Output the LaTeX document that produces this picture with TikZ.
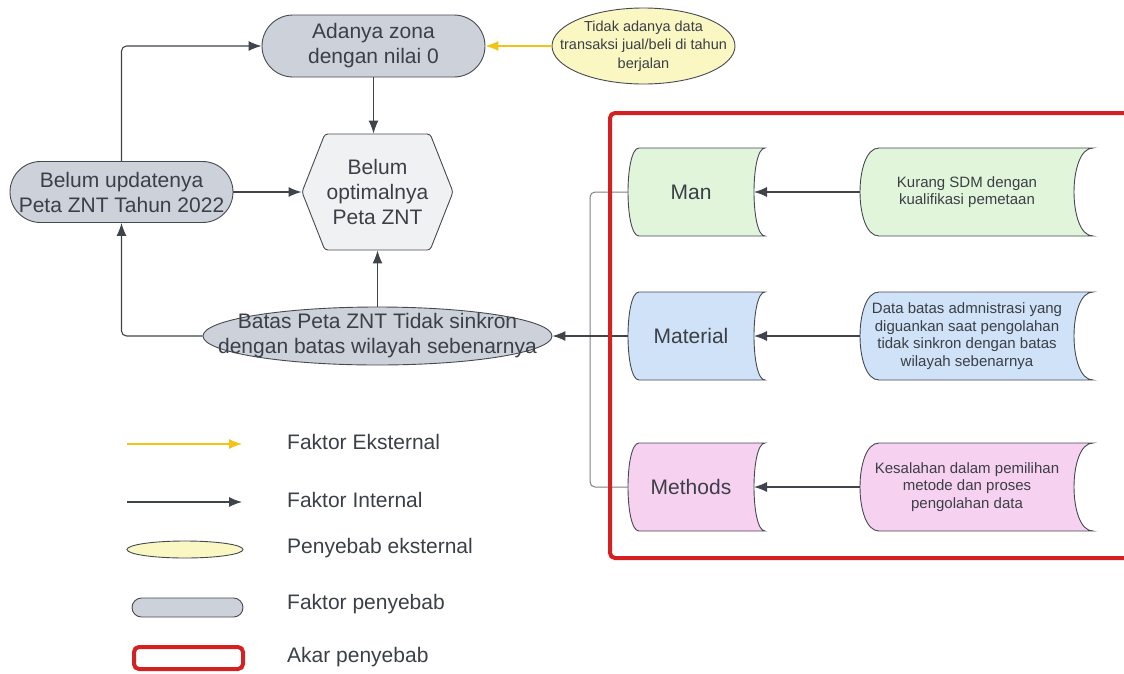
\documentclass[tikz,border=0pt]{standalone}
\usepackage{fontspec}
\setmainfont{Liberation Sans}
\usepackage{tikz}
\usetikzlibrary{shapes,arrows}
\usetikzlibrary{arrows.meta}
\usetikzlibrary{calc}
\definecolor{textgrey}{HTML}{3B3F46}
\definecolor{edgegrey}{HTML}{454A52}
\definecolor{linegrey}{HTML}{3F444B}
\definecolor{busgrey}{HTML}{7C7F84}
\definecolor{pillgrey}{HTML}{CDD2DA}
\definecolor{hexfill}{HTML}{F0F1F3}
\definecolor{extfill}{HTML}{FBF7C2}
\definecolor{extline}{HTML}{F2C417}
\definecolor{mangreen}{HTML}{E1F5DB}
\definecolor{matblue}{HTML}{CFE2F7}
\definecolor{methpink}{HTML}{F7D1F0}
\definecolor{akarred}{HTML}{D42020}
\tikzset{
  cdtext/.style={align=center, text=textgrey, inner sep=0},
  bigtxt/.style={cdtext, font=\fontsize{21}{25}\selectfont},
  smalltxt/.style={cdtext, font=\fontsize{15}{17.5}\selectfont},
  notetxt/.style={cdtext, font=\fontsize{14.5}{18.5}\selectfont},
  legtxt/.style={bigtxt, anchor=west},
  faktor/.style={rounded rectangle, draw=edgegrey, fill=pillgrey, line width=0.9pt, minimum height=61, inner sep=0},
  sebab/.style={ellipse, draw=edgegrey, fill=pillgrey, line width=0.9pt, inner sep=0},
  eksternal/.style={ellipse, draw=edgegrey, fill=extfill, line width=0.9pt, inner sep=0},
  hexa/.style={signal, signal to=east and west, signal pointer angle=137, draw=edgegrey, fill=hexfill, line width=0.9pt, minimum width=151, minimum height=116, inner sep=1pt, rounded corners=3pt},
  stored/.style={minimum height=88, inner sep=0, outer sep=0},
  intarrow/.style={draw=linegrey, line width=1.1pt, -{Latex[length=13pt,width=10pt]}},
  extarrow/.style={draw=extline, line width=1.1pt, -{Latex[length=13pt,width=10pt]}},
  bus/.style={draw=busgrey, line width=1pt, rounded corners=5pt},
  akar/.style={draw=akarred, line width=4pt, rounded corners=5pt}
}
\newcommand{\cdnode}[5] {\node at (#1) (#2) [#3] {}; \node at (#2) [#4] {#5};}
\newcommand{\cdstored}[7] {\node at (#1) (#2) [stored, minimum width=#3] {};
  \filldraw [fill=#5, draw=edgegrey, line width=0.9pt] ($(#2.north west)+(#4,0)$) -- (#2.north east)
    .. controls ($(#2.north east)+(-4/3*#4,0)$) and ($(#2.south east)+(-4/3*#4,0)$) .. (#2.south east)
    -- ($(#2.south west)+(#4,0)$)
    .. controls ($(#2.south west)+(-1/3*#4,0)$) and ($(#2.north west)+(-1/3*#4,0)$) .. ($(#2.north west)+(#4,0)$) -- cycle;
  \node at ($(#2)+(-#4/2,0)$) [#6] {#7};
  \coordinate (#2-in) at ($(#2.east)+(-#4,0)$);}
\newcommand{\cdlink}[3] {\draw [#3] (#1) -- (#2);}
\begin{document}
\begin{tikzpicture}[x=1pt, y=-1pt]
\useasboundingbox (0,0) rectangle (1124,673);

\cdnode {373.5,46} {zona} {faktor, minimum width=223, minimum height=62} {bigtxt} {Adanya zona\\dengan nilai 0};
\cdnode {643.5,46} {transaksi} {eksternal, minimum width=183, minimum height=76} {notetxt} {Tidak adanya data\\transaksi jual/beli di tahun\\berjalan};
\cdnode {121.5,192} {update} {faktor, minimum width=223} {bigtxt} {Belum updatenya\\Peta ZNT Tahun 2022};
\cdnode {377.5,192} {znt} {hexa} {bigtxt} {Belum\\optimalnya\\Peta ZNT};
\cdnode {377.5,336} {batas} {sebab, minimum width=349, minimum height=58} {bigtxt} {Batas Peta ZNT Tidak sinkron\\dengan batas wilayah sebenarnya};

\cdstored {696.5,192} {man} {137} {11} {mangreen} {bigtxt} {Man};
\cdstored {696.5,336} {material} {137} {11} {matblue} {bigtxt} {Material};
\cdstored {696.5,487} {methods} {137} {11} {methpink} {bigtxt} {Methods};
\cdstored {976.5,192} {sdm} {233} {19} {mangreen} {smalltxt} {Kurang SDM dengan\\kualifikasi pemetaan};
\cdstored {976.5,336} {data} {233} {19} {matblue} {smalltxt} {Data batas admnistrasi yang\\diguankan saat pengolahan\\tidak sinkron dengan batas\\wilayah sebenarnya};
\cdstored {976.5,487} {salah} {233} {19} {methpink} {smalltxt} {Kesalahan dalam pemilihan\\metode dan proses\\pengolahan data};

\cdlink{transaksi.west}{zona.east}{extarrow};
\cdlink{zona.south}{zona.south |- znt.north}{intarrow};
\cdlink{update.east}{znt.west}{intarrow};
\cdlink{batas.north}{batas.north |- znt.south}{intarrow};
\draw [intarrow, rounded corners=5pt] (update.north) |- (zona.west);
\draw [intarrow, rounded corners=5pt] (batas.west) -| (update.south);

\cdlink{sdm.west}{man-in}{intarrow};
\cdlink{data.west}{material-in}{intarrow};
\cdlink{salah.west}{methods-in}{intarrow};
\coordinate (bus) at (590,336);
\draw [bus] (man.west) -| (bus);
\draw [bus] (methods.west) -| (bus);
\cdlink{material.west}{batas.east}{intarrow};

\draw [akar] (610,113) rectangle (1140,558);

\coordinate (ek1) at (127,444);
\coordinate (ek2) at (242,444);
\coordinate (in1) at (127,502);
\coordinate (in2) at (242,502);
\cdlink{ek1}{ek2}{extarrow};
\cdlink{in1}{in2}{intarrow};
\node at (185,549.5) (lgext) [eksternal, minimum width=116, minimum height=17] {};
\node at (187.5,607.5) (lgfaktor) [faktor, minimum width=111, minimum height=19] {};
\node at (188.5,658) (lgakar) [akar, minimum width=109, minimum height=22] {};
\node at (287,442) (tek) [legtxt] {Faktor Eksternal};
\node at (287,500) (tin) [legtxt] {Faktor Internal};
\node at (287,548) (tpe) [legtxt] {Penyebab eksternal};
\node at (287,604) (tfp) [legtxt] {Faktor penyebab};
\node at (287,657) (tak) [legtxt] {Akar penyebab};

%\draw [help lines] (0,0) grid (1124,673);
\end{tikzpicture}
\end{document}
